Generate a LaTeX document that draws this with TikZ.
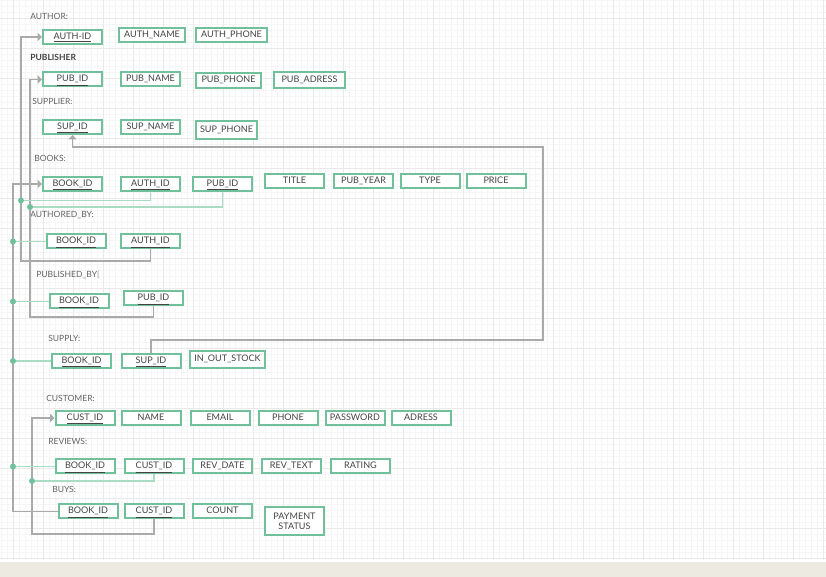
\documentclass[tikz,border=0pt]{standalone}
\usepackage{fontspec}
\setmainfont{Lato}
\usepackage{tikz}
\usetikzlibrary{arrows.meta}

\definecolor{keygreen}{RGB}{112,192,155}
\definecolor{linkgreen}{RGB}{170,220,196}
\definecolor{wiregray}{RGB}{170,170,170}
\definecolor{txtgray}{RGB}{68,68,68}
\definecolor{lblgray}{RGB}{100,100,100}
\definecolor{gridminor}{RGB}{245,245,245}
\definecolor{gridmajor}{RGB}{233,233,233}
\definecolor{band}{RGB}{237,234,226}

\tikzset{
	attr/.style={draw=keygreen,fill=white,line width=1.5pt,text=txtgray,font=\fontsize{6.8}{7.8}\selectfont,
		minimum width=44.25pt,minimum height=10.5pt,inner sep=1pt,align=center,text height=4.9pt,text depth=1.4pt},
	tbl/.style={anchor=west,text=lblgray,font=\fontsize{6.4}{7}\selectfont,inner sep=0pt},
	fk/.style={draw=wiregray,line width=0.9pt,-{Triangle[length=3.2pt,width=6pt]}},
	link/.style={draw=linkgreen,line width=1.1pt},
	jn/.style={circle,fill=keygreen,inner sep=0pt,minimum size=4.5pt}
}

\begin{document}
\begin{tikzpicture}[x=0.75pt,y=-0.75pt]

	\useasboundingbox (0,0) rectangle (826,577);
	\fill[white] (0,0) rectangle (826,577);
	\begin{scope}[y=0.75pt,shift={(13,-18)}]
		\clip (-13,18) rectangle (813,-542);
		\draw[gridminor,line width=0.6pt,step=4.5pt] (-18,24) grid (816,-546);
		\draw[gridmajor,line width=0.6pt,step=22.5pt] (-30,30) grid (840,-570);
	\end{scope}
	\fill[band] (0,562) rectangle (826,577);

	% AUTHOR
	\node[tbl] (lauthor) at (30,16) {AUTHOR:};
	\node[attr] (authid) at (72.5,37) {\underline{AUTH-ID}};
	\node[attr,minimum width=49.5pt] (authname) at (152,35.5) {AUTH\_NAME};
	\node[attr,minimum width=53.25pt] (authphone) at (231.5,35.5) {AUTH\_PHONE};

	% PUBLISHER
	\node[tbl,text=txtgray,font=\fontsize{6.4}{7}\selectfont\bfseries] (lpublisher) at (30,57) {PUBLISHER};
	\node[attr] (pubid) at (72.5,79.5) {\underline{PUB\_ID}};
	\node[attr] (pubname) at (150.5,79) {PUB\_NAME};
	\node[attr,minimum width=48.75pt,minimum height=11.25pt] (pubphone) at (228.5,80.5) {PUB\_PHONE};
	\node[attr,minimum width=53.25pt,minimum height=12pt] (pubadress) at (309.5,80) {PUB\_ADRESS};

	% SUPPLIER
	\node[tbl] (lsupplier) at (32,101) {SUPPLIER:};
	\node[attr] (supid) at (72.5,127) {\underline{SUP\_ID}};
	\node[attr] (supname) at (150.5,127) {SUP\_NAME};
	\node[attr,minimum width=45.75pt,minimum height=13.5pt] (supphone) at (226.5,130) {SUP\_PHONE};

	% BOOKS
	\node[tbl] (lbooks) at (34,158) {BOOKS:};
	\node[attr] (bkbook) at (72.5,184) {\underline{BOOK\_ID}};
	\node[attr] (bkauth) at (150.5,184) {\underline{AUTH\_ID}};
	\node[attr] (bkpub) at (222.5,184) {\underline{PUB\_ID}};
	\node[attr] (bktitle) at (294.5,181) {TITLE};
	\node[attr] (bkyear) at (363.5,181) {PUB\_YEAR};
	\node[attr] (bktype) at (430,181) {TYPE};
	\node[attr] (bkprice) at (496,181) {PRICE};

	% AUTHORED_BY
	\node[tbl] (lauthored) at (30,215) {AUTHORED\_BY:};
	\node[attr] (abbook) at (76,241.5) {\underline{BOOK\_ID}};
	\node[attr] (abauth) at (150.5,241.5) {\underline{AUTH\_ID}};

	% PUBLISHED_BY
	\node[tbl] (lpublished) at (36,275) {PUBLISHED\_BY{\color{lblgray!60}\{}};
	\node[attr] (pbbook) at (79,301.5) {\underline{BOOK\_ID}};
	\node[attr] (pbpub) at (153.5,298.5) {\underline{PUB\_ID}};

	% SUPPLY
	\node[tbl] (lsupply) at (48,338) {SUPPLY:};
	\node[attr] (spbook) at (81.5,361) {\underline{BOOK\_ID}};
	\node[attr] (spsup) at (151,361) {\underline{SUP\_ID}};
	\node[attr,minimum width=56.25pt,minimum height=12.75pt] (spstock) at (227.5,359.5) {IN\_OUT\_STOCK};

	% CUSTOMER
	\node[tbl] (lcustomer) at (46,398.5) {CUSTOMER:};
	\node[attr] (custid) at (85,418) {\underline{CUST\_ID}};
	\node[attr] (custname) at (151,418) {NAME};
	\node[attr] (custemail) at (220,418) {EMAIL};
	\node[attr] (custphone) at (288,418) {PHONE};
	\node[attr] (custpass) at (355,418) {PASSWORD};
	\node[attr] (custadress) at (421,418) {ADRESS};

	% REVIEWS
	\node[tbl] (lreviews) at (48,441) {REVIEWS:};
	\node[attr] (rvbook) at (85,466.5) {\underline{BOOK\_ID}};
	\node[attr] (rvcust) at (154,466.5) {\underline{CUST\_ID}};
	\node[attr] (rvdate) at (222.5,466.5) {REV\_DATE};
	\node[attr] (rvtext) at (291.5,466.5) {REV\_TEXT};
	\node[attr] (rvrating) at (360.5,466.5) {RATING};

	% BUYS
	\node[tbl] (lbuys) at (52,489) {BUYS:};
	\node[attr] (bybook) at (88,511.5) {\underline{BOOK\_ID}};
	\node[attr] (bycust) at (154,511.5) {\underline{CUST\_ID}};
	\node[attr] (bycount) at (222.5,511.5) {COUNT};
	\node[attr,minimum height=21pt,text height=,text depth=] (bypay) at (294.5,521) {PAYMENT\\STATUS};

	\coordinate (bookbus) at (13,0);

	\draw[fk] (abauth.south) |- (21,261) |- (authid.west);
	\draw[fk] (pbpub.south) |- (30,317) |- (pubid.west);
	\draw[fk] (bybook.west) -| (13,184) -- (bkbook.west);
	\draw[fk] (spsup.north) |- (543,340) |- (72.5,147) -- (supid.south);
	\draw[fk] (bycust.south) |- (32,534) |- (custid.west);

	\draw[link] (bkauth.south) |- (21,200.5) node[jn] (j1) {};
	\draw[link] (bkpub.south) |- (30,207) node[jn] (j2) {};
	\draw[link] (abbook.west) -- (abbook.west -| bookbus) node[jn] (j3) {};
	\draw[link] (pbbook.west) -- (pbbook.west -| bookbus) node[jn] (j4) {};
	\draw[link] (spbook.west) -- (spbook.west -| bookbus) node[jn] (j5) {};
	\draw[link] (rvbook.west) -- (rvbook.west -| bookbus) node[jn] (j6) {};
	\draw[link] (rvcust.south) |- (32,481) node[jn] (j7) {};

\end{tikzpicture}
\end{document}
